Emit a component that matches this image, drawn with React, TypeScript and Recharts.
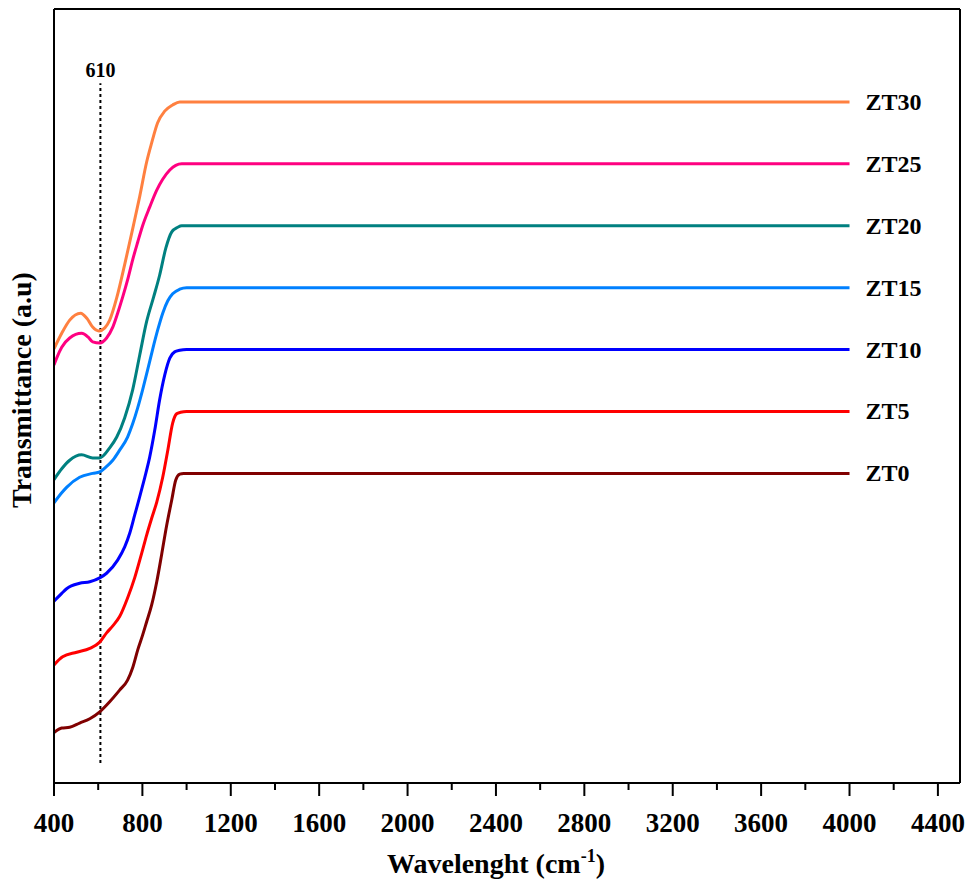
import React from 'react';
import { LineChart, Line, XAxis, YAxis, ReferenceLine } from 'recharts';

const FONT = '"Liberation Serif", "Times New Roman", serif';

// axis setup
const X_DOMAIN = [400, 4500];
const Y_DOMAIN = [0, 100];
const X_TICKS = [400, 600, 800, 1000, 1200, 1400, 1600, 1800, 2000, 2200, 2400, 2600, 2800, 3000, 3200, 3400, 3600, 3800, 4000, 4200, 4400];
const TOP_TICKS = X_TICKS.slice(1);
const MARKER_X = 610;
const MARKER_SPAN = [2.6, 90.4];

// [wavenumber, transmittance (arbitrary, stacked)]
const ZT30 = [[400, 56.1], [435, 58.1], [471, 59.8], [520, 60.7], [550, 60.0], [575, 58.9], [603, 58.4], [630, 58.8], [652, 59.8], [684, 62.7], [720, 67.0], [756, 71.6], [788, 75.8], [819, 80.2], [842, 82.7], [869, 85.3], [901, 86.8], [937, 87.6], [969, 88.0], [1000, 88], [4000, 88]];
const ZT25 = [[400, 54.0], [412, 54.9], [435, 56.3], [471, 57.5], [525, 58.1], [555, 57.6], [575, 57.0], [607, 56.85], [638, 57.5], [666, 58.9], [688, 60.7], [711, 62.8], [733, 65.0], [756, 67.6], [779, 69.9], [801, 72.0], [833, 74.4], [865, 76.6], [892, 78.0], [924, 79.2], [951, 79.8], [978, 80], [4000, 80]];
const ZT20 = [[400, 39.2], [435, 40.6], [471, 41.7], [525, 42.4], [575, 42.0], [607, 42.0], [652, 43.3], [684, 44.7], [720, 47.2], [756, 50.8], [788, 55.3], [819, 59.6], [851, 62.8], [878, 65.6], [906, 69.1], [933, 71.2], [960, 71.8], [978, 72], [4000, 72]];
const ZT15 = [[400, 36.2], [435, 37.5], [457, 38.2], [516, 39.5], [575, 40.0], [607, 40.2], [638, 40.9], [666, 41.7], [697, 43.0], [733, 44.7], [756, 46.4], [779, 48.5], [801, 50.8], [824, 53.4], [847, 56.1], [869, 58.5], [892, 60.7], [915, 62.3], [937, 63.2], [969, 63.8], [1000, 64], [4000, 64]];
const ZT10 = [[400, 23.5], [435, 24.5], [457, 25.1], [516, 25.8], [562, 26.0], [607, 26.5], [638, 27.1], [688, 28.8], [720, 30.5], [743, 32.3], [765, 34.6], [788, 37.0], [810, 39.4], [833, 42.1], [856, 45.6], [878, 49.5], [901, 52.7], [924, 54.9], [946, 55.7], [969, 55.9], [1000, 56], [4000, 56]];
const ZT5 = [[400, 15.25], [439, 16.3], [503, 16.9], [562, 17.4], [607, 18.2], [638, 19.4], [666, 20.3], [697, 21.5], [733, 23.9], [765, 26.5], [797, 29.7], [819, 32.0], [842, 34.2], [865, 36.3], [892, 39.5], [915, 43.0], [937, 46.5], [955, 47.7], [973, 47.9], [1000, 48], [4000, 48]];
const ZT0 = [[400, 6.5], [435, 7.1], [471, 7.2], [516, 7.75], [562, 8.3], [607, 9.2], [652, 10.5], [697, 12.0], [733, 13.3], [756, 14.9], [779, 17.2], [801, 19.1], [819, 20.8], [842, 23.0], [865, 26.0], [887, 29.5], [910, 33.3], [933, 36.6], [951, 39.15], [969, 39.9], [987, 40], [4000, 40]];

const SERIES = [
  { name: 'ZT30', points: ZT30, color: '#FF8040' },
  { name: 'ZT25', points: ZT25, color: '#FF0080' },
  { name: 'ZT20', points: ZT20, color: '#008080' },
  { name: 'ZT15', points: ZT15, color: '#0080FF' },
  { name: 'ZT10', points: ZT10, color: '#0000FF' },
  { name: 'ZT5', points: ZT5, color: '#FF0000' },
  { name: 'ZT0', points: ZT0, color: '#800000' },
];

function BottomTick(props: any) {
  const { x, y, payload } = props;
  const major = payload.value % 400 === 0;
  return (
    <g>
      <line x1={x} y1={y} x2={x} y2={y + (major ? 13 : 7)} stroke="#000" strokeWidth={2} />
      {major && (
        <text x={x} y={y + 49} textAnchor="middle" fontSize={27} fontWeight="bold" fontFamily={FONT} fill="#000">
          {payload.value}
        </text>
      )}
    </g>
  );
}

// series name to the right of the last point
function endLabel(name: string, count: number) {
  return (p: any) => {
    if (p.index !== count - 1) return null;
    const x = p.viewBox?.x ?? p.x;
    const y = p.viewBox?.y ?? p.y;
    return (
      <text x={x + 16} y={y + 8} fontSize={24} fontWeight="bold" fontFamily={FONT} fill="#000">
        {name}
      </text>
    );
  };
}

function YTitle(p: any) {
  const vb = p.viewBox || { x: 53, y: 9, width: 1, height: 774 };
  const cx = vb.x - 22;
  const cy = vb.y + vb.height / 2 - 6;
  return (
    <text x={cx} y={cy} transform={`rotate(-90, ${cx}, ${cy})`} textAnchor="middle"
      fontSize={28} fontWeight="bold" fontFamily={FONT} fill="#000">
      Transmittance (a.u)
    </text>
  );
}

function XTitle(p: any) {
  const vb = p.viewBox || { x: 54, y: 783, width: 906, height: 1 };
  const cx = vb.x + vb.width / 2 - 11;
  const cy = vb.y + 90;
  return (
    <text x={cx} y={cy} textAnchor="middle" fontSize={28} fontWeight="bold" fontFamily={FONT} fill="#000">
      <tspan>Wavelenght (cm</tspan>
      <tspan dy={-11} fontSize={18}>-1</tspan>
      <tspan dy={11}>)</tspan>
    </text>
  );
}

export default function App() {
  return (
    <div style={{ width: 971, height: 882, background: '#fff' }}>
      <style>{'body { margin: 0; }'}</style>
      <LineChart
        width={971}
        height={882}
        margin={{ top: 9, right: 10, bottom: 98, left: 53 }}
        style={{ fontFamily: FONT }}
      >
        <XAxis
          type="number"
          dataKey="x"
          domain={X_DOMAIN}
          ticks={X_TICKS}
          interval={0}
          allowDataOverflow
          height={1}
          tickSize={0}
          tickMargin={0}
          tickLine={false}
          tick={<BottomTick />}
          axisLine={{ stroke: '#000', strokeWidth: 2 }}
          label={{ content: <XTitle /> }}
        />
        <XAxis
          xAxisId="top"
          orientation="top"
          type="number"
          dataKey="x"
          domain={X_DOMAIN}
          ticks={TOP_TICKS}
          interval={0}
          allowDataOverflow
          mirror
          height={1}
          tickSize={4}
          tick={false}
          tickLine={{ stroke: '#000', strokeWidth: 1.5 }}
          axisLine={{ stroke: '#000', strokeWidth: 2 }}
        />
        <YAxis
          type="number"
          domain={Y_DOMAIN}
          allowDataOverflow
          width={1}
          tick={false}
          tickLine={false}
          axisLine={{ stroke: '#000', strokeWidth: 2 }}
          label={{ content: <YTitle /> }}
        />
        <YAxis
          yAxisId="right"
          orientation="right"
          type="number"
          domain={Y_DOMAIN}
          width={1}
          tick={false}
          tickLine={false}
          axisLine={{ stroke: '#000', strokeWidth: 2 }}
        />

        <ReferenceLine
          segment={[{ x: MARKER_X, y: MARKER_SPAN[0] }, { x: MARKER_X, y: MARKER_SPAN[1] }]}
          stroke="#000"
          strokeWidth={2}
          strokeDasharray="3 3"
          label={{ value: String(MARKER_X), position: 'top', offset: 6, fill: '#000', fontSize: 20, fontWeight: 'bold', fontFamily: FONT }}
        />

        {SERIES.map((s) => (
          <Line
            key={s.name}
            data={s.points.map(([x, y]) => ({ x, y }))}
            dataKey="y"
            type="monotone"
            stroke={s.color}
            strokeWidth={3}
            dot={false}
            activeDot={false}
            isAnimationActive={false}
            label={endLabel(s.name, s.points.length)}
          />
        ))}
      </LineChart>
    </div>
  );
}
